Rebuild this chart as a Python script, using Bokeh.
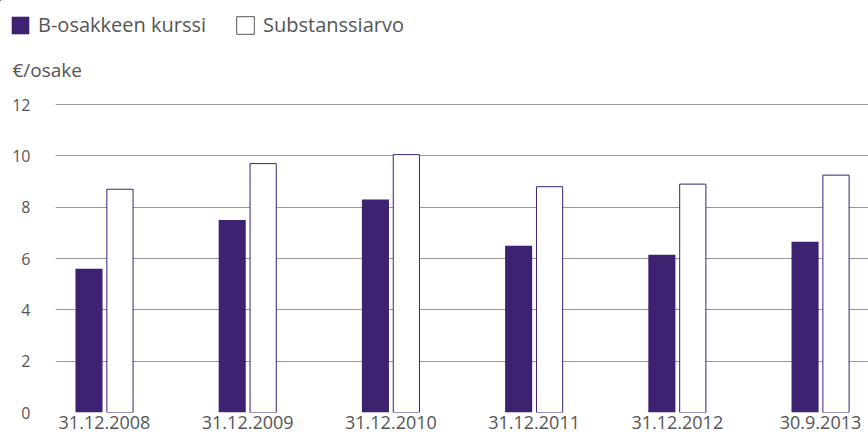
from bokeh.plotting import figure
from bokeh.layouts import column
from bokeh.models import Range1d, Legend, LegendItem, Label, ColumnDataSource, FixedTicker
from bokeh.transform import dodge
from bokeh.embed import file_html
from bokeh.resources import INLINE

dates = ["31.12.2008", "31.12.2009", "31.12.2010", "31.12.2011", "31.12.2012", "30.9.2013"]
kurssi = [5.6, 7.5, 8.3, 6.5, 6.15, 6.65]
substanssi = [8.7, 9.7, 10.05, 8.8, 8.9, 9.25]
y_ticks = [0, 2, 4, 6, 8, 10, 12]
series_names = ["B-osakkeen kurssi", "Substanssiarvo"]
unit_label = "€/osake"

FONT = "Open Sans"
TXT = "#555555"
PURPLE = "#3c2270"

xs = list(range(len(dates)))
src = ColumnDataSource(dict(x=xs, kurssi=kurssi, substanssi=substanssi))

# ---- header: legend + unit label (legend proxies lie far outside its visible range) ----
head = figure(width=868, height=86, output_backend="svg", toolbar_location=None,
              x_range=Range1d(1000, 1868), y_range=Range1d(-100, -14),
              x_axis_location=None, y_axis_location=None, frame_align=False,
              min_border_left=0, min_border_right=0, min_border_top=0, min_border_bottom=0)
head.outline_line_color = None
head.xgrid.grid_line_color = None
head.ygrid.grid_line_color = None
h1 = head.vbar(x="x", top="kurssi", width=1, source=src, fill_color=PURPLE, line_color=None)
h2 = head.vbar(x="x", top="substanssi", width=1, source=src, fill_color="white",
               line_color="#555555", line_width=1)
legend = Legend(items=[LegendItem(label=series_names[0], renderers=[h1]),
                       LegendItem(label=series_names[1], renderers=[h2])],
                orientation="horizontal", location=(9, 48),
                glyph_width=22, glyph_height=22, label_height=18,
                label_standoff=7, spacing=28, padding=0, margin=0,
                border_line_color=None, background_fill_alpha=0,
                label_text_font=FONT, label_text_font_size="20px",
                label_text_color=TXT)
head.add_layout(legend)
head.add_layout(Label(x=12, y=17, x_units="screen", y_units="screen", text=unit_label,
                      text_font=FONT, text_font_size="19px", text_color=TXT,
                      text_baseline="middle"))

# ---- main chart ----
p = figure(width=868, height=351, output_backend="svg", toolbar_location=None,
           x_range=Range1d(-0.342, 5.335), y_range=Range1d(0, 12.12), frame_align=False,
           min_border_left=55, min_border_right=0, min_border_top=15, min_border_bottom=25)
p.outline_line_color = None
p.background_fill_color = "white"

p.vbar(x=dodge("x", -0.108), top="kurssi", width=0.189, source=src,
       fill_color=PURPLE, line_color=None)
p.vbar(x=dodge("x", 0.108), top="substanssi", width=0.183, source=src,
       fill_color="white", line_color=PURPLE, line_width=1)

p.xgrid.grid_line_color = None
p.ygrid.ticker = FixedTicker(ticks=y_ticks)
p.ygrid.grid_line_color = "#999999"
p.ygrid.grid_line_width = 1

p.yaxis.ticker = FixedTicker(ticks=y_ticks)
p.yaxis.axis_line_color = None
p.yaxis.major_tick_line_color = None
p.yaxis.minor_tick_line_color = None
p.yaxis.major_label_standoff = 19
p.yaxis.major_label_text_font = FONT
p.yaxis.major_label_text_font_size = "16px"
p.yaxis.major_label_text_color = TXT

p.xaxis.ticker = FixedTicker(ticks=xs)
p.xaxis.major_label_overrides = {i: d for i, d in zip(xs, dates)}
p.xaxis.axis_line_color = None
p.xaxis.major_tick_line_color = None
p.xaxis.minor_tick_line_color = None
p.xaxis.major_tick_out = 0
p.xaxis.major_label_standoff = 3
p.xaxis.major_label_text_font = FONT
p.xaxis.major_label_text_font_size = "18px"
p.xaxis.major_label_text_color = TXT

layout = column(head, p, spacing=0)
open("out.html", "w").write(file_html(layout, INLINE))
